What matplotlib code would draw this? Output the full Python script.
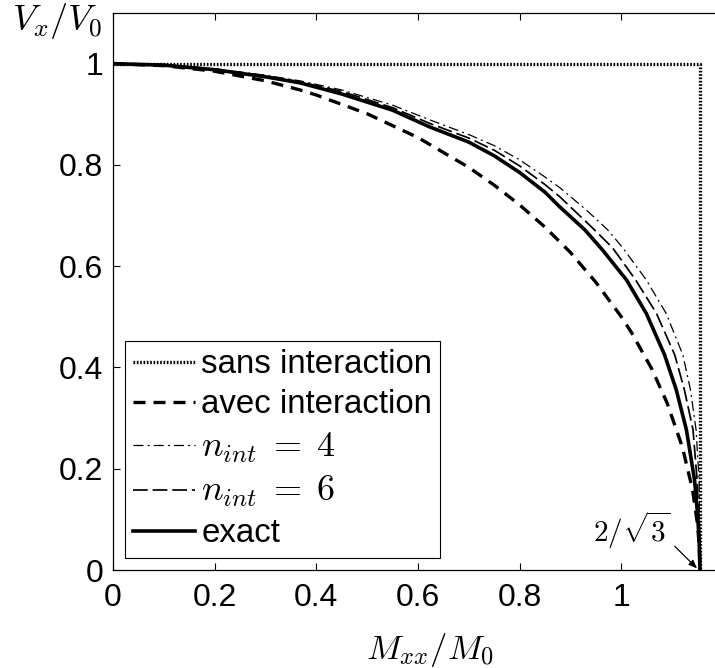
import numpy as np
import matplotlib
matplotlib.use("Agg")
import matplotlib.pyplot as plt

plt.rcParams['font.family'] = ['Liberation Sans', 'DejaVu Sans']
plt.rcParams['mathtext.fontset'] = 'cm'

# values (M_xx/M0, Vx/V0)
m_lim = 1.1547  # 2/sqrt(3)

sans_x = [0.0, m_lim, m_lim]
sans_y = [1.0, 1.0, 0.0]

avec_x = [0.0, 0.1, 0.2, 0.3, 0.368, 0.4, 0.5, 0.6, 0.7, 0.75, 0.8, 0.85, 0.9, 0.95, 1.0, 1.02,
          1.06, 1.09, 1.12, 1.14, 1.15, 1.1535, m_lim]
avec_y = [1.0, 0.996, 0.985, 0.966, 0.948, 0.938, 0.901, 0.854, 0.795, 0.760, 0.721, 0.677, 0.627,
          0.568, 0.500, 0.469, 0.397, 0.330, 0.243, 0.159, 0.090, 0.045, 0.0]

n4_x = [0.0, 0.1, 0.2, 0.3, 0.368, 0.45, 0.55, 0.623, 0.7, 0.75, 0.8, 0.85, 0.879, 0.93, 0.973,
        1.003, 1.049, 1.088, 1.121, 1.136, 1.147, 1.153, m_lim]
n4_y = [1.0, 0.998, 0.990, 0.977, 0.966, 0.948, 0.918, 0.889, 0.860, 0.838, 0.810, 0.776, 0.755,
        0.712, 0.672, 0.636, 0.573, 0.507, 0.425, 0.356, 0.277, 0.178, 0.0]

n6_x = [0.0, 0.1, 0.2, 0.3, 0.368, 0.45, 0.55, 0.623, 0.7, 0.75, 0.8, 0.85, 0.879, 0.947, 0.983,
        1.028, 1.069, 1.105, 1.124, 1.141, 1.149, 1.1535, m_lim]
n6_y = [1.0, 0.998, 0.989, 0.976, 0.964, 0.945, 0.913, 0.882, 0.853, 0.829, 0.798, 0.761, 0.737,
        0.672, 0.636, 0.573, 0.507, 0.425, 0.356, 0.277, 0.178, 0.080, 0.0]

exact_x = [0.0, 0.1, 0.2, 0.3, 0.368, 0.45, 0.55, 0.623, 0.7, 0.75, 0.8, 0.85, 0.879, 0.928, 0.963,
           1.01, 1.049, 1.085, 1.108, 1.128, 1.144, 1.150, 1.153, m_lim]
exact_y = [1.0, 0.997, 0.988, 0.974, 0.962, 0.940, 0.908, 0.875, 0.845, 0.818, 0.785, 0.746, 0.717,
           0.672, 0.632, 0.573, 0.507, 0.425, 0.356, 0.277, 0.178, 0.110, 0.060, 0.0]

fig = plt.figure(figsize=(7.15, 6.68), dpi=100)
ax = fig.add_axes([113 / 715, 98 / 668, 610 / 715, 557 / 668])

ax.plot(sans_x, sans_y, color='k', lw=2.4, dashes=(0.5, 0.5), label='sans interaction')
ax.plot(avec_x, avec_y, color='k', lw=2.4, dashes=(3.6, 2.4), label='avec interaction')
ax.plot(n4_x, n4_y, color='k', lw=0.9, dashes=(8, 3.3, 1.6, 3.3), label=r'$n_{int}\;=\;4$')
ax.plot(n6_x, n6_y, color='k', lw=1.25, dashes=(8.5, 2.8), label=r'$n_{int}\;=\;6$')
ax.plot(exact_x, exact_y, color='k', lw=2.6, label='exact')

ax.set_xlim(0, 1.2)
ax.set_ylim(0, 1.1)
ax.set_xticks([0, 0.2, 0.4, 0.6, 0.8, 1.0])
ax.set_xticklabels(['0', '0.2', '0.4', '0.6', '0.8', '1'])
ax.set_yticks([0, 0.2, 0.4, 0.6, 0.8, 1.0])
ax.set_yticklabels(['0', '0.2', '0.4', '0.6', '0.8', '1'])
ax.tick_params(direction='in', length=5, width=0.8, labelsize=23, top=True, right=True)
ax.tick_params(axis='x', pad=9)
ax.tick_params(axis='y', pad=7)
for s in ax.spines.values():
    s.set_linewidth(0.9)

# axis labels placed like the matlab export
fig.text(430 / 715, 1 - 650 / 668, r'$M_{xx}/M_0$', fontsize=25, ha='center', va='center')
fig.text(57 / 715, 1 - 21 / 668, r'$V_x/V_0$', fontsize=26, ha='center', va='center')

# 2/sqrt(3) marker
ax.text(1.02, 0.079, r'$2/\sqrt{3}$', fontsize=21, ha='center', va='center')
ax.annotate('', xy=(1.149, 0.003), xytext=(1.105, 0.047),
            arrowprops=dict(arrowstyle='-|>,head_length=0.5,head_width=0.2', color='k', lw=0.9,
                            shrinkA=0, shrinkB=0))

leg = ax.legend(loc='lower left', bbox_to_anchor=(0.02, 0.022), borderaxespad=0,
                fontsize=23.8, handlelength=1.85, handletextpad=0.2, labelspacing=0.28,
                borderpad=0.25, fancybox=False, framealpha=1)
leg.get_frame().set_edgecolor('k')
leg.get_frame().set_linewidth(0.8)
for t in leg.get_texts()[2:4]:
    t.set_fontsize(26)

fig.savefig('out.png', dpi=100)
